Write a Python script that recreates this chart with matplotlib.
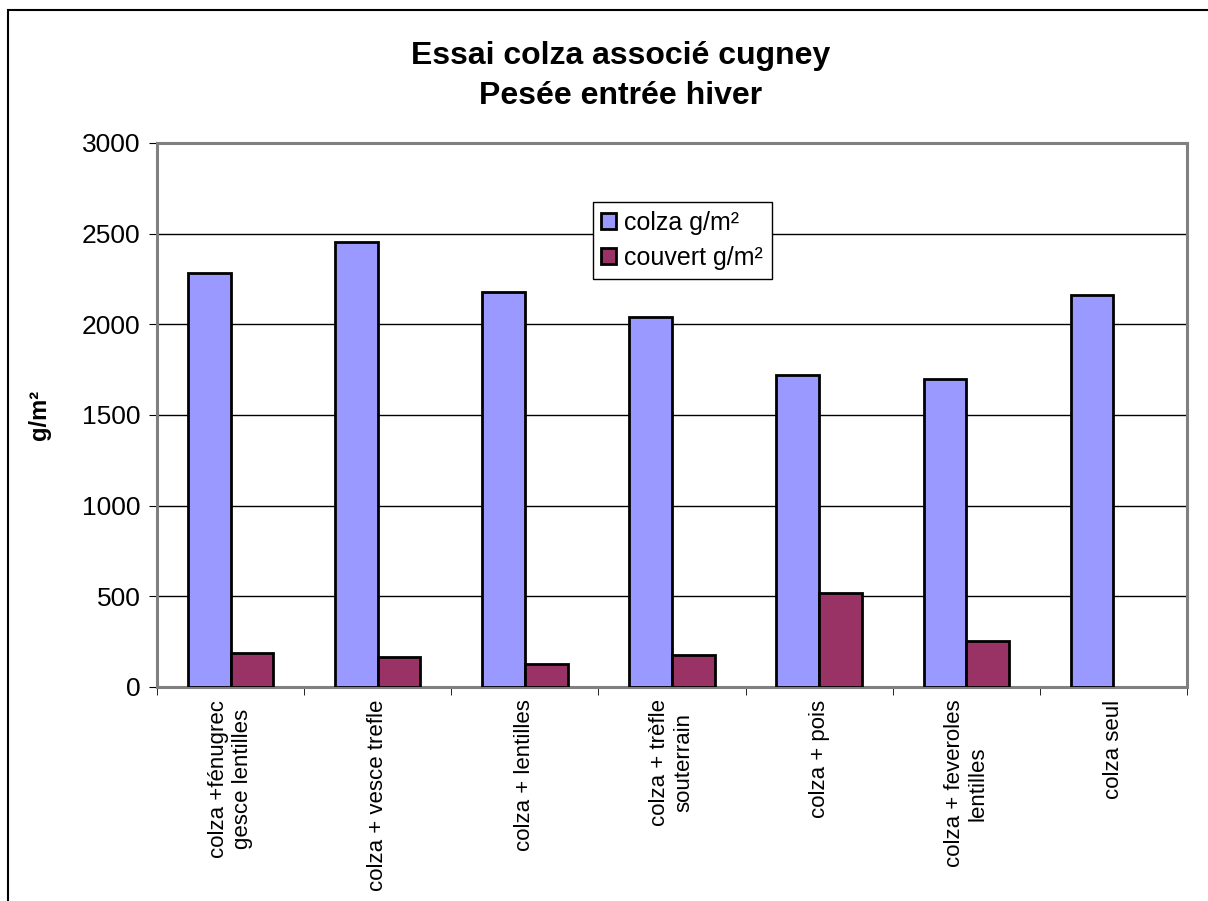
import numpy as np
import matplotlib
matplotlib.use('Agg')
import matplotlib.pyplot as plt
from matplotlib.patches import Rectangle

plt.rcParams['font.family'] = ['Liberation Sans', 'DejaVu Sans']

# donnees
categories = ['colza +fénugrec\ngesce lentilles', 'colza + vesce trefle', 'colza + lentilles',
              'colza + trèfle\nsouterrain', 'colza + pois', 'colza + feveroles\nlentilles', 'colza seul']
colza = [2283, 2454, 2178, 2038, 1718, 1696, 2163]
couvert = [189, 166, 129, 174, 518, 252, 0]
y_ticks = [0, 500, 1000, 1500, 2000, 2500, 3000]

fig = plt.figure(figsize=(12.08, 9.01), dpi=100)
ax = fig.add_axes([157/1208, 1-687/901, (1187-157)/1208, (687-143)/901])

x = np.arange(len(categories))
w = 0.29
ax.bar(x - w/2, colza, w, color='#9999FF', edgecolor='black', linewidth=2, label='colza g/m²', zorder=3)
# pas de contour pour les barres nulles
edges = ['black' if v > 0 else 'none' for v in couvert]
ax.bar(x + w/2, couvert, w, color='#993366', edgecolor=edges, linewidth=2, label='couvert g/m²', zorder=3)

ax.set_xlim(-0.5, len(categories) - 0.5)
ax.set_ylim(0, 3000)
ax.set_yticks(y_ticks)
ax.set_yticklabels([str(v) for v in y_ticks], fontsize=19)
ax.yaxis.grid(True, color='black', linewidth=1)
ax.set_axisbelow(True)

ax.set_xticks(x)
ax.set_xticklabels(categories, rotation=90, fontsize=16, va='top', ha='center', multialignment='center')
ax.tick_params(axis='x', which='major', length=0, pad=9)
ax.set_xticks(np.arange(len(categories) + 1) - 0.5, minor=True)
ax.tick_params(axis='x', which='minor', length=6, direction='out', color='black')
ax.tick_params(axis='y', length=6, direction='out', color='black', pad=6)

for s in ax.spines.values():
    s.set_color('#808080')
    s.set_linewidth(2.2)

ax.set_ylabel('g/m²', fontsize=17, fontweight='bold', labelpad=22)

leg = ax.legend(loc='upper left', bbox_to_anchor=(0.423, 0.892), borderaxespad=0, fontsize=18,
                frameon=True, fancybox=False, edgecolor='black', framealpha=1, handlelength=0.6,
                handleheight=0.6, handletextpad=0.3, borderpad=0.35, labelspacing=0.45)
leg.get_frame().set_linewidth(1)

fig.text(0.514, 1-56/901, 'Essai colza associé cugney', ha='center', va='center', fontsize=23, fontweight='bold')
fig.text(0.514, 1-96/901, 'Pesée entrée hiver', ha='center', va='center', fontsize=23, fontweight='bold')

fig.patches.append(Rectangle((8/1208, -0.1), 2, 1.1 - 10/901, transform=fig.transFigure,
                             fill=False, edgecolor='black', linewidth=1.5))

fig.savefig('out.png', dpi=100)
